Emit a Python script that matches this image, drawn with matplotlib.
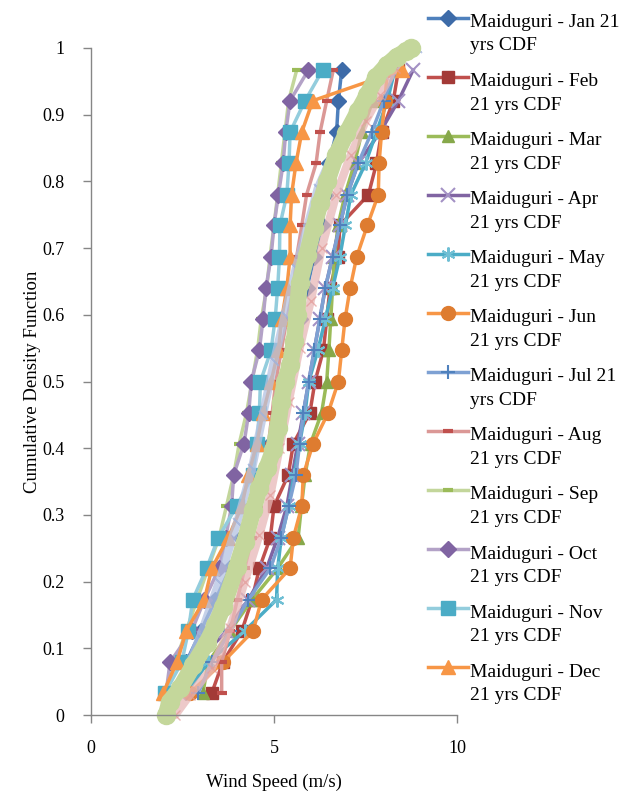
import matplotlib
matplotlib.use("Agg")
import matplotlib.pyplot as plt
from matplotlib.lines import Line2D

plt.rcParams['font.family'] = ['Liberation Serif', 'DejaVu Serif']

# ---------------- data ----------------
months = ["Jan", "Feb", "Mar", "Apr", "May", "Jun",
          "Jul", "Aug", "Sep", "Oct", "Nov", "Dec"]
legend_line1 = ["Maiduguri - Jan 21", "Maiduguri - Feb", "Maiduguri - Mar",
                "Maiduguri - Apr", "Maiduguri - May", "Maiduguri - Jun",
                "Maiduguri - Jul 21", "Maiduguri - Aug", "Maiduguri - Sep",
                "Maiduguri - Oct", "Maiduguri - Nov", "Maiduguri - Dec"]
legend_line2 = ["yrs CDF", "21 yrs CDF", "21 yrs CDF", "21 yrs CDF", "21 yrs CDF",
                "21 yrs CDF", "yrs CDF", "21 yrs CDF", "21 yrs CDF", "21 yrs CDF",
                "21 yrs CDF", "21 yrs CDF"]

# cumulative probability of each ranked year (21 years)
cdf_rank = [0.033, 0.079, 0.126, 0.173, 0.220, 0.266, 0.313, 0.360, 0.407, 0.453, 0.500,
            0.547, 0.593, 0.640, 0.687, 0.734, 0.780, 0.827, 0.874, 0.921, 0.967]

jan = [2.30, 2.60, 3.00, 3.40, 3.80, 4.10, 4.40, 4.70, 4.90, 5.10, 5.30,
       5.50, 5.70, 5.90, 6.10, 6.30, 6.40, 6.50, 6.71, 6.76, 6.85]
feb = [3.30, 3.60, 4.12, 4.40, 4.60, 4.90, 5.00, 5.39, 5.53, 5.98, 6.12,
       6.35, 6.44, 6.53, 6.75, 6.80, 7.58, 7.80, 7.94, 8.26, 8.40]
mar = [3.06, 3.20, 3.80, 4.40, 5.10, 5.66, 5.75, 5.85, 6.00, 6.30, 6.44,
       6.50, 6.55, 6.60, 6.65, 6.75, 6.94, 7.20, 7.40, 7.70, 8.00]
apr = [2.40, 2.90, 3.70, 4.30, 4.80, 5.10, 5.35, 5.50, 5.65, 5.80, 5.95,
       6.10, 6.25, 6.40, 6.60, 6.80, 7.00, 7.30, 7.90, 8.40, 8.80]
may = [2.60, 3.20, 4.20, 5.07, 5.10, 5.20, 5.40, 5.55, 5.70, 5.85, 5.95,
       6.20, 6.40, 6.60, 6.80, 6.95, 7.10, 7.50, 7.80, 8.10, 8.30]
jun = [2.70, 3.60, 4.43, 4.66, 5.44, 5.53, 5.76, 5.80, 6.07, 6.48, 6.76,
       6.85, 6.94, 7.08, 7.26, 7.55, 7.85, 7.87, 7.94, 8.03, 8.10]
jul = [2.93, 3.30, 3.80, 4.30, 4.90, 5.20, 5.40, 5.60, 5.70, 5.80, 5.95,
       6.10, 6.25, 6.40, 6.60, 6.80, 7.00, 7.30, 7.67, 8.00, 8.30]
aug = [3.57, 3.57, 3.80, 4.00, 4.20, 4.40, 4.55, 4.70, 4.85, 4.95, 5.05,
       5.20, 5.35, 5.53, 5.62, 5.76, 5.89, 6.15, 6.26, 6.44, 6.62]
sep = [2.00, 2.30, 2.60, 2.90, 3.20, 3.50, 3.70, 3.90, 4.05, 4.25, 4.40,
       4.55, 4.65, 4.80, 4.89, 5.00, 5.10, 5.20, 5.30, 5.40, 5.62]
oct_ = [2.05, 2.16, 2.75, 3.10, 3.50, 3.68, 3.84, 3.90, 4.18, 4.31, 4.38,
        4.60, 4.70, 4.78, 4.92, 5.00, 5.12, 5.25, 5.32, 5.44, 5.94]
nov = [2.02, 2.48, 2.66, 2.78, 3.16, 3.48, 3.98, 4.42, 4.53, 4.60, 4.63,
       4.92, 5.03, 5.10, 5.15, 5.16, 5.35, 5.41, 5.44, 5.85, 6.33]
dec = [1.97, 2.35, 2.60, 3.10, 3.30, 3.75, 4.12, 4.30, 4.53, 4.70, 4.92,
       5.12, 5.21, 5.35, 5.44, 5.44, 5.48, 5.60, 5.76, 6.06, 8.49]

# pooled curves (drawn without legend entries)
pooled_x = [2.05, 2.15, 2.43, 2.80, 3.16, 3.40, 3.61, 3.98, 4.20, 4.43, 4.60, 4.80,
            4.98, 5.10, 5.20, 5.30, 5.44, 5.55, 5.62, 5.70, 5.90, 6.08, 6.26, 6.45,
            6.70, 6.98, 7.30, 7.55, 7.80, 8.10, 8.35, 8.60, 8.75]
pooled_y = [0.000, 0.020, 0.040, 0.075, 0.108, 0.135, 0.162, 0.222, 0.260, 0.307, 0.340, 0.370,
            0.397, 0.430, 0.470, 0.500, 0.525, 0.560, 0.600, 0.647, 0.690, 0.730, 0.767, 0.800,
            0.840, 0.872, 0.905, 0.930, 0.957, 0.975, 0.987, 0.995, 1.000]
pink_x = [2.30, 2.70, 3.30, 3.80, 4.20, 4.60, 4.90, 5.15, 5.40, 5.70, 6.00, 6.30,
          6.70, 7.10, 7.50, 7.90, 8.30, 8.70]
pink_y = [0.000, 0.030, 0.070, 0.130, 0.200, 0.270, 0.330, 0.400, 0.470, 0.550, 0.620, 0.700,
          0.780, 0.840, 0.890, 0.930, 0.970, 1.000]
lav_x = [2.10, 2.50, 3.00, 3.50, 4.00, 4.40, 4.70, 5.00, 5.30, 5.60, 5.90, 6.20,
         6.60, 7.00, 7.50, 8.00, 8.50, 8.90]
lav_y = [0.000, 0.050, 0.120, 0.200, 0.290, 0.370, 0.450, 0.530, 0.600, 0.670, 0.730, 0.790,
         0.840, 0.880, 0.920, 0.960, 0.990, 1.000]

x_ticks = [0, 5, 10]
y_ticks = [0, 0.1, 0.2, 0.3, 0.4, 0.5, 0.6, 0.7, 0.8, 0.9, 1]
y_tick_labels = ["0", "0.1", "0.2", "0.3", "0.4", "0.5", "0.6", "0.7", "0.8", "0.9", "1"]

# ---------------- styles ----------------
series = [jan, feb, mar, apr, may, jun, jul, aug, sep, oct_, nov, dec]
styles = [
    dict(color="#4F81BD", marker="D", mfc="#3D6BA8", mec="#3D6BA8", ms=8, mew=1),
    dict(color="#C0504D", marker="s", mfc="#A33A37", mec="#A33A37", ms=9, mew=1),
    dict(color="#9BBB59", marker="^", mfc="#86A84A", mec="#86A84A", ms=9, mew=1),
    dict(color="#8064A2", marker="x", mfc="#A391C4", mec="#A391C4", ms=10, mew=1.5),
    dict(color="#4BACC6", marker=(6, 2, 0), mfc="#6FBFD4", mec="#6FBFD4", ms=10, mew=1.5),
    dict(color="#F79646", marker="o", mfc="#DE7C30", mec="#DE7C30", ms=10, mew=1),
    dict(color="#7EA1D3", marker="+", mfc="#4F81BD", mec="#4F81BD", ms=10, mew=1.5),
    dict(color="#DB9896", marker="_", mfc="#C0504D", mec="#C0504D", ms=7, mew=3),
    dict(color="#C3D69B", marker="_", mfc="#9BBB59", mec="#9BBB59", ms=7, mew=3),
    dict(color="#B3A2C7", marker="D", mfc="#8064A2", mec="#8064A2", ms=8, mew=1),
    dict(color="#93CDDD", marker="s", mfc="#4BACC6", mec="#4BACC6", ms=10, mew=1),
    dict(color="#F79646", marker="^", mfc="#F79646", mec="#F79646", ms=10, mew=1),
]

W, H = 635, 796
fig = plt.figure(figsize=(W / 100, H / 100), dpi=100)
ax = fig.add_axes([91 / W, 1 - 715 / H, 366 / W, 667 / H])

for xs, st in zip(series, styles):
    ax.plot(xs, cdf_rank, lw=2.5, clip_on=False, **st)

ax.plot(lav_x, lav_y, color="#B4C2E2", lw=6, alpha=0.75, marker=(2, 2, 45),
        ms=9, mew=1, mec="#9FB2DC", solid_capstyle="round", clip_on=False)
ax.plot(pink_x, pink_y, color="#E8B8B7", lw=6, alpha=0.75, marker="x",
        ms=7, mew=1, mec="#E39C9A", solid_capstyle="round", clip_on=False)
ax.plot(pooled_x, pooled_y, color="#C4D79B", lw=12, marker="o", ms=13,
        mec="#C4D79B", solid_capstyle="round", clip_on=False)

ax.set_xlim(0, 10)
ax.set_ylim(0, 1)
ax.set_xticks(x_ticks)
ax.set_xticklabels([str(t) for t in x_ticks])
ax.set_yticks(y_ticks)
ax.set_yticklabels(y_tick_labels)
for s in ["top", "right"]:
    ax.spines[s].set_visible(False)
for s in ["left", "bottom"]:
    ax.spines[s].set_color("#868686")
    ax.spines[s].set_linewidth(1)
ax.tick_params(axis="both", direction="out", length=6, width=1, color="#868686",
               labelsize=13, labelcolor="black")
ax.tick_params(axis="y", pad=13)
ax.tick_params(axis="x", pad=12)
ax.set_xlabel("Wind Speed (m/s)", fontsize=13.5, labelpad=12)
ax.set_ylabel("Cumulative Density Function", fontsize=13.5, labelpad=1)

# ---------------- legend (two-line labels, handle on first line) ----------------
pitch = 59.06
for k, st in enumerate(styles):
    base = 27 + k * pitch
    hy = 1 - (base - 9.5) / H
    ln = Line2D([427.7 / W, 448 / W, 468.3 / W], [hy, hy, hy], transform=fig.transFigure,
                lw=2.5, markevery=[1], **st)
    fig.add_artist(ln)
    fig.text(470.5 / W, 1 - base / H, legend_line1[k], fontsize=14, va="baseline", ha="left")
    fig.text(470.5 / W, 1 - (base + 23.5) / H, legend_line2[k], fontsize=14, va="baseline", ha="left")

fig.savefig("out.png", dpi=100)
